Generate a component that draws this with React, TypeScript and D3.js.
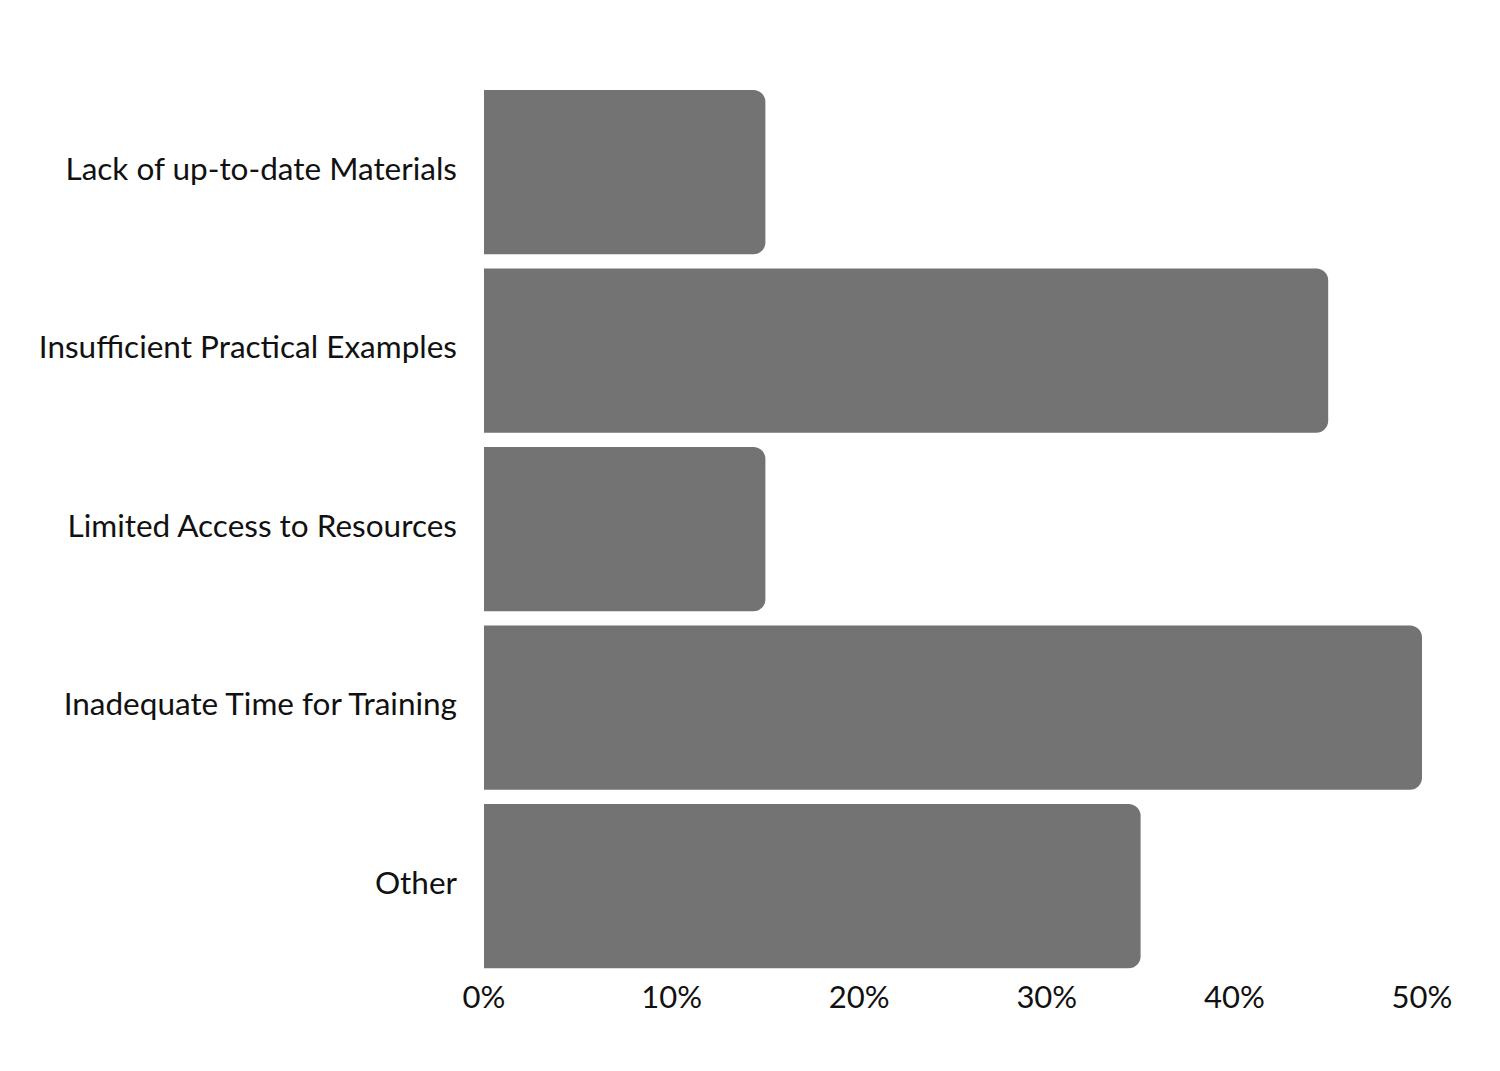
import React from "react";
import * as d3 from "d3";

const categories: string[] = [
  "Lack of up-to-date Materials",
  "Insufficient Practical Examples",
  "Limited Access to Resources",
  "Inadequate Time for Training",
  "Other",
];
const values: number[] = [15, 45, 15, 50, 35];
const ticks: number[] = [0, 10, 20, 30, 40, 50];

const W = 1500;
const H = 1071;
const left = 484;
const right = 1422;
const top = 82.9;
const bottom = 975.4;

function rightRounded(x: number, y: number, w: number, h: number, r: number) {
  const rr = Math.min(r, w, h / 2);
  const p = d3.path();
  p.moveTo(x, y);
  p.lineTo(x + w - rr, y);
  p.arcTo(x + w, y, x + w, y + rr, rr);
  p.lineTo(x + w, y + h - rr);
  p.arcTo(x + w, y + h, x + w - rr, y + h, rr);
  p.lineTo(x, y + h);
  p.closePath();
  return p.toString();
}

export default function App() {
  const x = d3.scaleLinear().domain([0, 50]).range([left, right]);
  const y = d3
    .scaleBand<string>()
    .domain(categories)
    .range([top, bottom])
    .paddingInner(0.08)
    .paddingOuter(0.04);
  const font = "Lato, 'Open Sans', sans-serif";
  return (
    <svg
      width={W}
      height={H}
      style={{ position: "absolute", left: 0, top: 0, background: "#fff" }}
      fontFamily={font}
    >
      <rect x={0} y={0} width={W} height={H} fill="#fff" />
      {categories.map((c, i) => (
        <g key={c}>
          <path
            d={rightRounded(x(0), y(c)!, x(values[i]) - x(0), y.bandwidth(), 12)}
            fill="#737373"
          />
          <text
            x={left - 27}
            y={y(c)! + y.bandwidth() / 2 + 7.5}
            textAnchor="end"
            fontSize={31.5}
            fill="#111"
          >
            {c}
          </text>
        </g>
      ))}
      {ticks.map((t) => (
        <text
          key={t}
          x={x(t)}
          y={1008}
          textAnchor="middle"
          fontSize={31}
          fill="#111"
        >
          {t + "%"}
        </text>
      ))}
    </svg>
  );
}
